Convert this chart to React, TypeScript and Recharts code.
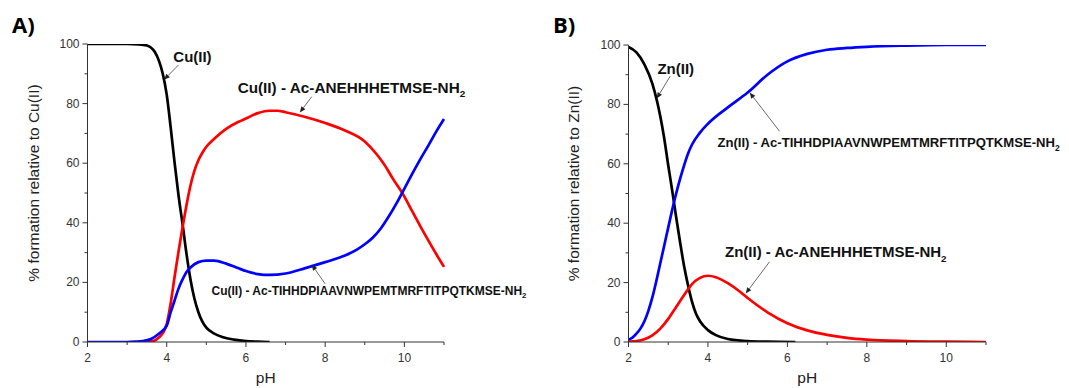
import { LineChart, Line, XAxis, YAxis, ReferenceLine, ReferenceDot } from 'recharts';

// values (pH, % formation)
const cuFreePH = [2, 3, 3.3, 3.5, 3.6, 3.7, 3.8, 3.9, 4.0, 4.1, 4.2, 4.3, 4.4, 4.5, 4.6, 4.7, 4.8, 4.9, 5.0, 5.2, 5.4, 5.7, 6.0, 6.3, 6.6];
const cuFree = [100, 100, 99.9, 99.5, 98.8, 97.3, 94.5, 90, 83, 72, 60, 49, 39.5, 29.5, 21, 14.5, 10, 6.8, 4.8, 2.8, 1.7, 0.8, 0.3, 0.1, 0];

const cuShortPH = [3.5, 3.7, 3.8, 3.9, 4.0, 4.1, 4.2, 4.3, 4.4, 4.5, 4.6, 4.7, 4.8, 4.9, 5.0, 5.2, 5.5, 5.8, 6.0, 6.3, 6.6, 6.8, 7.0, 7.5, 8.0, 8.5, 9.0, 9.3, 9.5, 9.7, 10.0, 10.2, 10.4, 10.6, 10.8, 11];
const cuShort = [0, 0.5, 1.5, 3, 6, 13, 22, 30.5, 38.5, 46, 52.5, 57.5, 61, 63.5, 65.5, 68.2, 71.5, 73.8, 75, 76.8, 77.6, 77.6, 77.1, 75.5, 73.5, 71, 67.3, 63, 59.4, 55, 48.8, 43.8, 38.9, 34.2, 29.6, 25.2];

const cuLongPH = [2, 3.0, 3.2, 3.4, 3.6, 3.8, 4.0, 4.1, 4.2, 4.3, 4.4, 4.5, 4.6, 4.8, 5.0, 5.2, 5.5, 5.8, 6.0, 6.3, 6.6, 7.0, 7.5, 8.0, 8.5, 8.8, 9.0, 9.2, 9.4, 9.6, 9.8, 10.0, 10.2, 10.4, 10.6, 10.8, 11];
const cuLong = [0, 0, 0.1, 0.3, 1, 2.8, 5.5, 10, 14, 18, 21, 23.5, 25, 26.8, 27.3, 27.3, 26.3, 24.8, 23.8, 22.8, 22.5, 23, 24.8, 26.8, 29, 31, 32.8, 35, 38, 42, 46.5, 51.5, 56.5, 61.3, 65.8, 70.5, 74.8];

const znFreePH = [2.0, 2.2, 2.4, 2.6, 2.8, 2.9, 3.0, 3.1, 3.2, 3.3, 3.4, 3.5, 3.6, 3.7, 3.8, 4.0, 4.2, 4.5, 5.0, 5.5, 6.2];
const znFree = [99.3, 97.5, 93.5, 87, 76, 68.5, 59.5, 51, 42, 33.5, 25.5, 19, 13.5, 9.5, 7, 4, 2.3, 1, 0.3, 0.1, 0];

const znLongPH = [2.0, 2.1, 2.2, 2.3, 2.4, 2.5, 2.6, 2.7, 2.8, 2.9, 3.0, 3.1, 3.2, 3.3, 3.4, 3.5, 3.6, 3.8, 4.0, 4.5, 5.0, 5.5, 6.0, 6.5, 7.0, 7.5, 8.0, 9.0, 10, 11];
const znLong = [0.8, 1.5, 2.8, 4.5, 7, 10.5, 15, 20.5, 26.5, 32.5, 38.5, 44.5, 50, 55, 59.5, 63.5, 66.5, 70.5, 73.5, 79, 84, 90, 94.5, 97, 98.4, 99, 99.4, 99.8, 100, 100];

const znShortPH = [2.0, 2.2, 2.4, 2.6, 2.8, 3.0, 3.2, 3.4, 3.6, 3.8, 4.0, 4.2, 4.5, 4.8, 5.0, 5.5, 6.0, 6.5, 7.0, 7.5, 8.0, 9, 10, 11];
const znShort = [0.1, 0.3, 0.9, 2.2, 4.5, 7.8, 11.8, 15.8, 19.5, 21.6, 22.3, 21.8, 19.8, 17, 14.8, 10, 6.3, 3.9, 2.4, 1.4, 0.8, 0.3, 0.1, 0];

const xTicks = [2, 3, 4, 5, 6, 7, 8, 9, 10, 11];
const yTicks = [0, 10, 20, 30, 40, 50, 60, 70, 80, 90, 100];

const pts = (xs: number[], ys: number[]) => xs.map((ph, i) => ({ ph, v: ys[i] }));

const AXIS = '#333';
const TICK = '#333';
const FONT = '"Liberation Sans", Arial, sans-serif';

const XTick = ({ x, y, payload }: any) => {
  const major = payload.value % 2 === 0;
  return (
    <g>
      <line x1={x} x2={x} y1={y} y2={y + (major ? 5 : 3)} stroke={AXIS} />
      {major && (
        <text x={x} y={y + 20} textAnchor="middle" fontSize={12} fill={TICK} fontFamily={FONT}>
          {payload.value}
        </text>
      )}
    </g>
  );
};

const YTick = ({ x, y, payload }: any) => {
  const major = payload.value % 20 === 0;
  return (
    <g>
      <line x1={x} x2={x - (major ? 5 : 3)} y1={y} y2={y} stroke={AXIS} />
      {major && (
        <text x={x - 8} y={y + 4} textAnchor="end" fontSize={12} fill={TICK} fontFamily={FONT}>
          {payload.value}
        </text>
      )}
    </g>
  );
};

const arrow = (p: any) => {
  const { x1, y1, x2, y2 } = p;
  const a = Math.atan2(y2 - y1, x2 - x1);
  const L = 6;
  const W = 2.5;
  const bx = x2 - L * Math.cos(a);
  const by = y2 - L * Math.sin(a);
  const nx = -Math.sin(a) * W;
  const ny = Math.cos(a) * W;
  return (
    <g>
      <line x1={x1} y1={y1} x2={bx} y2={by} stroke="#444" strokeWidth={0.8} />
      <polygon points={`${x2},${y2} ${bx + nx},${by + ny} ${bx - nx},${by - ny}`} fill="#222" />
    </g>
  );
};

const note = (text: string, size: number, anchor: 'start' | 'middle', sub?: string) => (p: any) => (
  <text x={p.cx} y={p.cy} fontSize={size} fontWeight="bold" fill="#111" fontFamily={FONT} textAnchor={anchor}>
    {text}
    {sub && (
      <tspan fontSize={size * 0.65} dy={size * 0.3}>
        {sub}
      </tspan>
    )}
  </text>
);

const yTitle = (text: string, dx: number) => (props: any) => {
  const vb = props.viewBox;
  const cx = vb.x + dx;
  const cy = vb.y + vb.height / 2 - 10;
  return (
    <text x={cx} y={cy} transform={`rotate(-90 ${cx} ${cy})`} textAnchor="middle" dominantBaseline="middle" fontSize={15.5} fill="#222" fontFamily={FONT}>
      {text}
    </text>
  );
};

const xTitle = (props: any) => {
  const vb = props.viewBox;
  return (
    <text x={vb.x + vb.width / 2} y={383} textAnchor="middle" fontSize={15.5} fill="#222" fontFamily={FONT}>
      pH
    </text>
  );
};

const axes = (yW: number, metal: string, titleDx: number) => [
  <XAxis
    key="x"
    type="number"
    dataKey="ph"
    domain={[2, 11]}
    ticks={xTicks}
    interval={0}
    allowDuplicatedCategory={false}
    height={46}
    tickSize={0}
    tickMargin={0}
    tickLine={false}
    tick={<XTick />}
    axisLine={{ stroke: AXIS }}
    label={{ content: xTitle }}
  />,
  <YAxis
    key="y"
    type="number"
    domain={[0, 100]}
    ticks={yTicks}
    interval={0}
    width={yW}
    tickSize={0}
    tickMargin={0}
    tickLine={false}
    tick={<YTick />}
    axisLine={{ stroke: AXIS }}
    allowDataOverflow
    label={{ content: yTitle(`% formation relative to ${metal}`, titleDx) }}
  />,
];

const lineProps = { dataKey: 'v', type: 'monotone' as const, dot: false, strokeWidth: 2.7, isAnimationActive: false };

export default function App() {
  return (
    <div style={{ position: 'absolute', left: 0, top: 0, width: 1069, height: 388, background: '#fff', overflow: 'hidden' }}>
      <div style={{ position: 'absolute', left: 12, top: 13, fontFamily: '"Open Sans", sans-serif', fontWeight: 700, fontSize: 22, lineHeight: '22px' }}>A)</div>
      <div style={{ position: 'absolute', left: 553, top: 13, fontFamily: '"Open Sans", sans-serif', fontWeight: 700, fontSize: 22, lineHeight: '22px' }}>B)</div>

      <div style={{ position: 'absolute', left: 0, top: 0 }}>
        <LineChart width={534} height={388} margin={{ top: 44, right: 90, left: 0, bottom: 0 }}>
          {axes(87.5, 'Cu(II)', 35)}
          <Line {...lineProps} data={pts(cuFreePH, cuFree)} stroke="#000" />
          <Line {...lineProps} data={pts(cuShortPH, cuShort)} stroke="#f00" />
          <Line {...lineProps} data={pts(cuLongPH, cuLong)} stroke="#00f" />
          <ReferenceLine segment={[{ x: 4.3, y: 93 }, { x: 3.93, y: 88 }]} shape={arrow} ifOverflow="visible" />
          <ReferenceLine segment={[{ x: 7.66, y: 82.3 }, { x: 7.36, y: 77 }]} shape={arrow} ifOverflow="visible" />
          <ReferenceLine segment={[{ x: 8.0, y: 19.5 }, { x: 7.66, y: 26 }]} shape={arrow} ifOverflow="visible" />
          <ReferenceDot x={4.65} y={94} r={0} ifOverflow="visible" shape={note('Cu(II)', 15, 'middle')} />
          <ReferenceDot x={5.79} y={83.7} r={0} ifOverflow="visible" shape={note('Cu(II) - Ac-ANEHHHETMSE-NH', 15.3, 'start', '2')} />
          <ReferenceDot x={5.13} y={15.9} r={0} ifOverflow="visible" shape={note('Cu(II) - Ac-TIHHDPIAAVNWPEMTMRFTITPQTKMSE-NH', 12, 'start', '2')} />
        </LineChart>
      </div>

      <div style={{ position: 'absolute', left: 534, top: 0 }}>
        <LineChart width={535} height={388} margin={{ top: 45, right: 83, left: 0, bottom: 0 }}>
          {axes(94.5, 'Zn(II)', 41)}
          <Line {...lineProps} data={pts(znFreePH, znFree)} stroke="#000" />
          <Line {...lineProps} data={pts(znShortPH, znShort)} stroke="#f00" />
          <Line {...lineProps} data={pts(znLongPH, znLong)} stroke="#00f" />
          <ReferenceLine segment={[{ x: 3.05, y: 89.5 }, { x: 2.71, y: 82 }]} shape={arrow} ifOverflow="visible" />
          <ReferenceLine segment={[{ x: 5.8, y: 71 }, { x: 5.05, y: 84 }]} shape={arrow} ifOverflow="visible" />
          <ReferenceLine segment={[{ x: 5.55, y: 27 }, { x: 4.95, y: 16.3 }]} shape={arrow} ifOverflow="visible" />
          <ReferenceDot x={3.19} y={90.4} r={0} ifOverflow="visible" shape={note('Zn(II)', 15, 'middle')} />
          <ReferenceDot x={4.24} y={65.7} r={0} ifOverflow="visible" shape={note('Zn(II) - Ac-TIHHDPIAAVNWPEMTMRFTITPQTKMSE-NH', 13.1, 'start', '2')} />
          <ReferenceDot x={4.43} y={28.6} r={0} ifOverflow="visible" shape={note('Zn(II) - Ac-ANEHHHETMSE-NH', 15, 'start', '2')} />
        </LineChart>
      </div>
    </div>
  );
}
